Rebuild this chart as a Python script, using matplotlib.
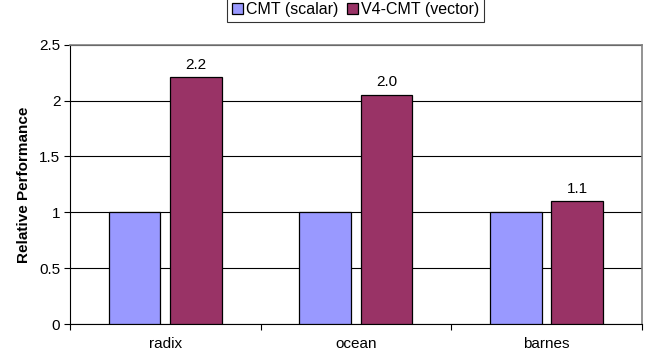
import matplotlib
matplotlib.use('Agg')
import matplotlib.pyplot as plt
import numpy as np

# 各基准程序的相对性能
benchmarks = ['radix', 'ocean', 'barnes']
scalar_perf = [1.0, 1.0, 1.0]
vector_perf = [2.21, 2.05, 1.1]
vector_labels = ['2.2', '2.0', '1.1']
series_names = ['CMT (scalar)', 'V4-CMT (vector)']
y_ticks = [0, 0.5, 1, 1.5, 2, 2.5]

plt.rcParams['font.family'] = ['Liberation Sans', 'DejaVu Sans']
fs = 11

fig = plt.figure(figsize=(6.49, 3.6), dpi=100)
ax = fig.add_axes([0.1079, 0.1, 0.881, 0.7758])

x = np.arange(len(benchmarks))
w = 0.27
off = 0.161
b1 = ax.bar(x - off, scalar_perf, w, color='#9999FF', edgecolor='black', linewidth=0.9,
            label=series_names[0], zorder=3)
b2 = ax.bar(x + off, vector_perf, w, color='#993366', edgecolor='black', linewidth=0.9,
            label=series_names[1], zorder=3)

for rect, txt in zip(b2, vector_labels):
    ax.text(rect.get_x() + rect.get_width() / 2, rect.get_height() + 0.05, txt,
            ha='center', va='bottom', fontsize=fs)

ax.set_xlim(-0.5, len(benchmarks) - 0.5)
ax.set_ylim(0, 2.5)
ax.set_yticks(y_ticks)
ax.set_yticklabels([f'{t:g}' for t in y_ticks])
ax.yaxis.grid(True, color='black', linewidth=0.8, zorder=0)
ax.set_axisbelow(True)

# 类别标签在中间，刻度线在类别之间
ax.set_xticks(x)
ax.set_xticklabels(benchmarks)
ax.set_xticks(np.arange(len(benchmarks) + 1) - 0.5, minor=True)
ax.tick_params(axis='x', which='major', length=0, pad=9, labelsize=fs)
ax.tick_params(axis='x', which='minor', length=4, width=0.8, direction='out')
ax.tick_params(axis='y', length=4, width=0.8, direction='out', labelsize=fs, pad=3)

for s in ['left', 'bottom']:
    ax.spines[s].set_color('black')
    ax.spines[s].set_linewidth(0.8)
for s in ['top', 'right']:
    ax.spines[s].set_color('#808080')
    ax.spines[s].set_linewidth(1.2)

ax.set_ylabel('Relative Performance', fontsize=fs, fontweight='bold', labelpad=6)

leg = fig.legend(handles=[b1, b2], loc='lower center', bbox_to_anchor=(0.548, 0.9397),
                 ncol=2, frameon=True, fancybox=False, fontsize=11.5,
                 handlelength=0.67, handleheight=0.67, handletextpad=0.2,
                 columnspacing=0.55, borderpad=0.3, borderaxespad=0)
leg.get_frame().set_edgecolor('black')
leg.get_frame().set_linewidth(0.8)

fig.savefig('out.png', dpi=100)
plt.close(fig)
